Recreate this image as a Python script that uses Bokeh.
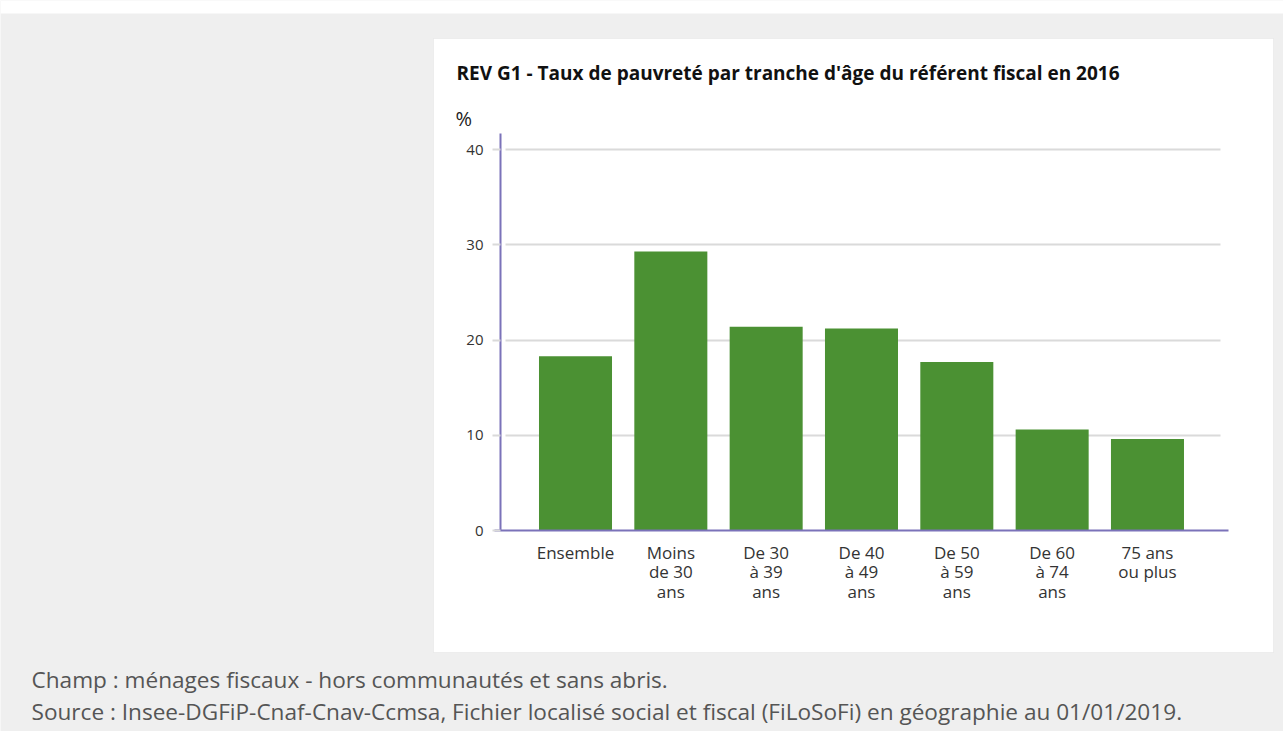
from bokeh.plotting import figure
from bokeh.models import Range1d, FixedTicker, Label, BoxAnnotation
from bokeh.embed import file_html
from bokeh.resources import INLINE

# ---- data ----
categories = ["Ensemble", "Moins de 30 ans", "De 30 à 39 ans", "De 40 à 49 ans",
              "De 50 à 59 ans", "De 60 à 74 ans", "75 ans ou plus"]
tick_labels = ["Ensemble", "Moins\nde 30\nans", "De 30\nà 39\nans", "De 40\nà 49\nans",
               "De 50\nà 59\nans", "De 60\nà 74\nans", "75 ans\nou plus"]
values = [18.3, 29.3, 21.4, 21.2, 17.7, 10.6, 9.6]
y_ticks = [0, 10, 20, 30, 40]
grid_ticks = [10, 20, 30, 40]
y_max = 41.7
title_text = "REV G1 - Taux de pauvreté par tranche d'âge du référent fiscal en 2016"
unit_text = "%"
note1 = "Champ : ménages fiscaux - hors communautés et sans abris."
note2 = "Source : Insee-DGFiP-Cnaf-Cnav-Ccmsa, Fichier localisé social et fiscal (FiLoSoFi) en géographie au 01/01/2019."

# ---- page geometry (pixels) ----
W, H = 1283, 731
X0_PX = 575.0        # centre of first category
STEP_PX = 95.33      # distance between categories
Y0_PX = 530.0        # pixel row of value 0
UNIT_PX = 9.525      # pixels per percentage point
YAX_PX = 500
XAX_LEFT, XAX_RIGHT = 494, 1228
GRID_LEFT, GRID_RIGHT = 505, 1220

FONT = "Open Sans"
AXIS_COL = "#7b72b9"
BAR_COL = "#4b9133"
GRID_COL = "#dadada"


def xd(px):
    return (px - X0_PX) / STEP_PX


def yd(py):
    return (Y0_PX - py) / UNIT_PX


idx = list(range(len(categories)))

p = figure(width=W, height=H, output_backend="svg", toolbar_location=None,
           x_range=Range1d(xd(0), xd(W)), y_range=Range1d(yd(H), yd(0)),
           min_border=0)
p.title.visible = False
p.border_fill_color = "#efefef"
p.background_fill_color = "#efefef"
p.outline_line_color = None


def sx(cx):
    return cx


def sy(cy):
    return H - cy


SCREEN = dict(left_units="screen", right_units="screen",
              top_units="screen", bottom_units="screen")
# white strip at top of page
p.add_layout(BoxAnnotation(left=sx(0), right=sx(W), top=sy(0), bottom=sy(13),
                           fill_color="white", fill_alpha=1, line_color=None,
                           level="image", **SCREEN))
# white card
p.add_layout(BoxAnnotation(left=sx(433), right=sx(1273), top=sy(38), bottom=sy(652),
                           fill_color="white", fill_alpha=1, line_color="#d6d6d6",
                           line_width=1, level="image", **SCREEN))

# horizontal grid lines (limited extent like the reference)
grid = p.ygrid[0]
if "cross_bounds" in grid.properties():
    grid.ticker = FixedTicker(ticks=grid_ticks)
    grid.cross_bounds = (xd(GRID_LEFT), xd(GRID_RIGHT))
    grid.grid_line_color = GRID_COL
    grid.grid_line_width = 2
else:
    grid.grid_line_color = None
    p.segment(x0=[xd(GRID_LEFT)] * len(grid_ticks), x1=[xd(GRID_RIGHT)] * len(grid_ticks),
              y0=grid_ticks, y1=grid_ticks, line_color=GRID_COL, line_width=2,
              level="underlay")
p.xgrid.grid_line_color = None

p.vbar(x=idx, top=values, width=0.766, bottom=0, fill_color=BAR_COL, line_color=None)

# axes placed inside the frame
p.yaxis.fixed_location = xd(YAX_PX)
p.yaxis.bounds = (0, y_max)
p.yaxis.ticker = FixedTicker(ticks=y_ticks)
p.yaxis.axis_line_color = AXIS_COL
p.yaxis.axis_line_width = 2
p.yaxis.major_tick_line_color = GRID_COL
p.yaxis.major_tick_line_width = 2
p.yaxis.major_tick_out = 8
p.yaxis.major_tick_in = 0
p.yaxis.minor_tick_line_color = None
p.yaxis.major_label_standoff = 9
p.yaxis.major_label_text_font = FONT
p.yaxis.major_label_text_font_size = "15px"
p.yaxis.major_label_text_color = "#333333"

p.xaxis.fixed_location = 0
p.xaxis.bounds = (xd(XAX_LEFT), xd(XAX_RIGHT))
p.xaxis.ticker = FixedTicker(ticks=idx)
p.xaxis.major_label_overrides = {i: t for i, t in zip(idx, tick_labels)}
p.xaxis.axis_line_color = AXIS_COL
p.xaxis.axis_line_width = 2
p.xaxis.major_tick_line_color = None
p.xaxis.minor_tick_line_color = None
p.xaxis.major_tick_out = 0
p.xaxis.major_tick_in = 0
p.xaxis.major_label_standoff = 10
p.xaxis.major_label_text_font = FONT
p.xaxis.major_label_text_font_size = "17px"
p.xaxis.major_label_text_color = "#333333"
p.xaxis.major_label_text_line_height = 0.85

# texts
p.add_layout(Label(x=sx(456), y=sy(72), x_units="screen", y_units="screen",
                   text=title_text, text_font=FONT, text_font_style="bold",
                   text_font_size="19px", text_color="#111111",
                   text_baseline="middle", text_align="left"))
p.add_layout(Label(x=sx(455), y=sy(118), x_units="screen", y_units="screen",
                   text=unit_text, text_font=FONT, text_font_size="20px",
                   text_color="#222222", text_baseline="middle", text_align="left"))
p.add_layout(Label(x=sx(31), y=sy(679), x_units="screen", y_units="screen",
                   text=note1, text_font=FONT, text_font_size="22.6px",
                   text_color="#555555", text_baseline="middle", text_align="left"))
p.add_layout(Label(x=sx(31), y=sy(711), x_units="screen", y_units="screen",
                   text=note2, text_font=FONT, text_font_size="22.6px",
                   text_color="#555555", text_baseline="middle", text_align="left"))

open("out.html", "w").write(file_html(p, INLINE))
